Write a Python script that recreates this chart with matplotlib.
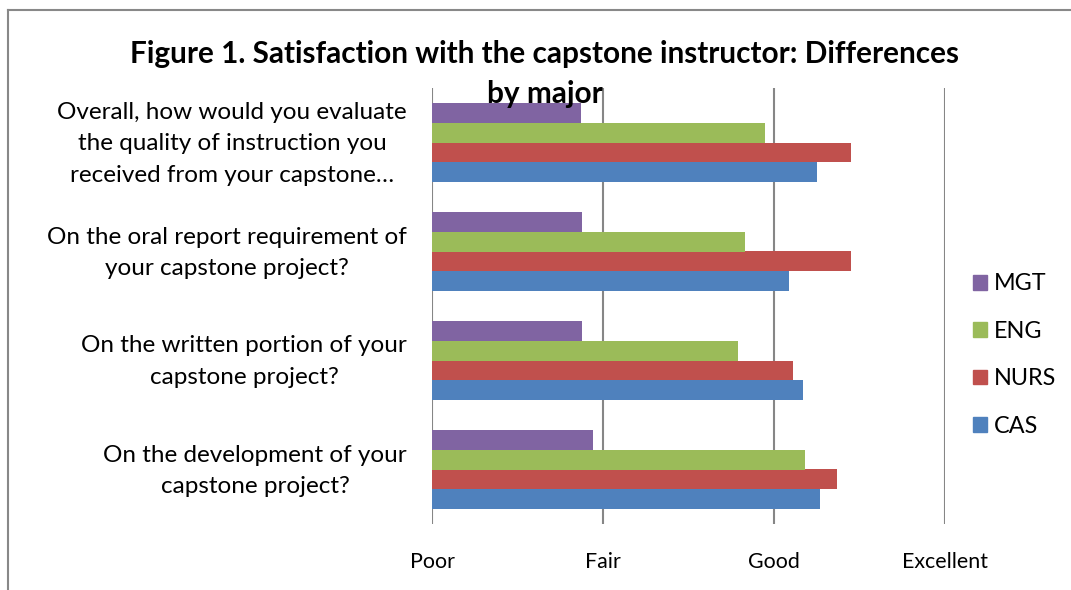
import matplotlib.pyplot as plt
from matplotlib.lines import Line2D
from matplotlib.patches import Patch
import matplotlib.transforms as mtransforms
import numpy as np

plt.rcParams['font.family'] = ['Lato', 'DejaVu Sans']

questions = [
    "On the development of your\ncapstone project?",
    "On the written portion of your\ncapstone project?",
    "On the oral report requirement of\nyour capstone project?",
    "Overall, how would you evaluate\nthe quality of instruction you\nreceived from your capstone\u2026",
]
majors = ["CAS", "NURS", "ENG", "MGT"]
colors = ["#4F81BD", "#C0504D", "#9BBB59", "#8064A2"]
# ratings: 1 = Poor, 2 = Fair, 3 = Good, 4 = Excellent
cas = [3.27, 3.17, 3.09, 3.25]
nurs = [3.37, 3.11, 3.45, 3.45]
eng = [3.18, 2.79, 2.83, 2.95]
mgt = [1.94, 1.88, 1.88, 1.87]
scale_ticks = [1, 2, 3, 4]
scale_labels = ["Poor", "Fair", "Good", "Excellent"]

fig = plt.figure(figsize=(10.71, 5.9), dpi=100)
ax = fig.add_axes([432/1071, 1-524/590, (945-432)/1071, (524-88)/590])

y = np.arange(len(questions))
h = 0.182
series = [cas, nurs, eng, mgt]
for i, (vals, name, c) in enumerate(zip(series, majors, colors)):
    offset = (i - 1.5) * h
    ax.barh(y + offset, vals, height=h, color=c, label=name, zorder=3)

ax.set_xlim(1, 4)
ax.set_ylim(-0.5, 3.5)
ax.set_xticks(scale_ticks)
ax.set_xticklabels(scale_labels, fontsize=15.4)
ax.set_yticks(y)
ax.set_yticklabels(questions, fontsize=17.5, multialignment='center', linespacing=1.62)
ax.tick_params(axis='x', length=0, pad=20.5)
ax.tick_params(axis='y', length=0, pad=18)
ax.grid(axis='x', color='#868686', linewidth=1.5, zorder=1)
for s in ax.spines.values():
    s.set_visible(False)

# nudge the question labels up a little
shift = mtransforms.ScaledTranslation(0, 6/100, fig.dpi_scale_trans)
for lab in ax.get_yticklabels():
    lab.set_transform(lab.get_transform() + shift)

fig.text(545/1071, 1-74/590, "Figure 1. Satisfaction with the capstone instructor: Differences\nby major",
         ha='center', va='center', fontsize=21.4, fontweight='bold', linespacing=1.5)

handles = [Patch(color=c) for c in colors][::-1]
fig.legend(handles, majors[::-1], loc='center left', bbox_to_anchor=(952/1071, 1-355/590),
           frameon=False, fontsize=16.8, labelspacing=1.13, handlelength=0.6,
           handleheight=0.6, handletextpad=0.3)

# chart border
fig.add_artist(Line2D([8/1071, 8/1071], [0, 1-10/590], color='#888888', linewidth=1.5))
fig.add_artist(Line2D([8/1071, 1], [1-10/590, 1-10/590], color='#888888', linewidth=1.5))

fig.savefig("out.png", dpi=100)
